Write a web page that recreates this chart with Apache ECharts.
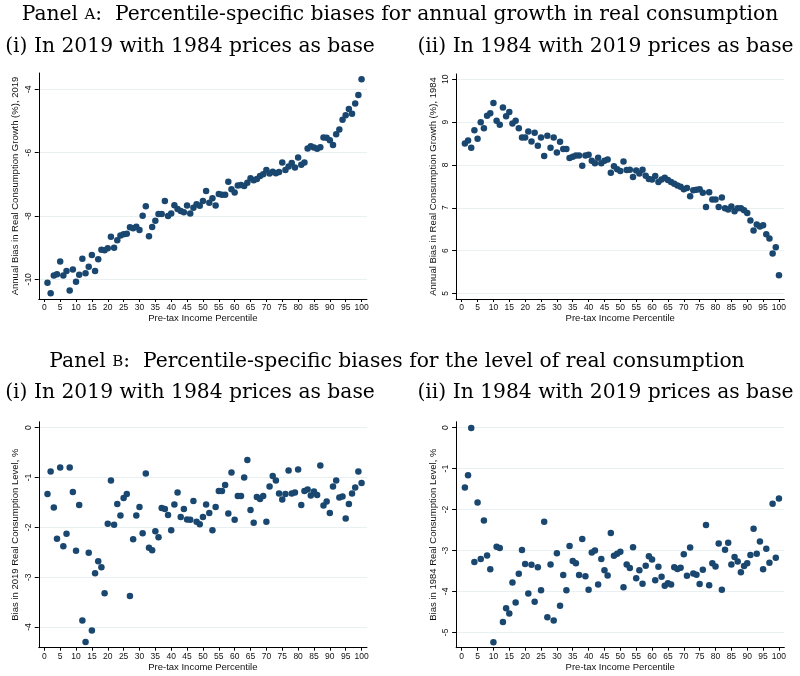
<!DOCTYPE html>
<html><head><meta charset="utf-8">
<script src="https://cdn.jsdelivr.net/npm/echarts@6/dist/echarts.min.js"></script>
<style>html,body{margin:0;padding:0;background:#fff}#c{width:800px;height:676px}</style>
</head><body><div id="c"></div>
<script>
const percentiles = [1,2,3,4,5,6,7,8,9,10,11,12,13,14,15,16,17,18,19,20,21,22,23,24,25,26,27,28,29,30,31,32,33,34,35,36,37,38,39,40,41,42,43,44,45,46,47,48,49,50,51,52,53,54,55,56,57,58,59,60,61,62,63,64,65,66,67,68,69,70,71,72,73,74,75,76,77,78,79,80,81,82,83,84,85,86,87,88,89,90,91,92,93,94,95,96,97,98,99,100];
const xTicks = [0,5,10,15,20,25,30,35,40,45,50,55,60,65,70,75,80,85,90,95,100];

// Panel A (i): annual growth bias, 2019 with 1984 prices as base
const growth2019 = [-10.11,-10.44,-9.88,-9.84,-9.44,-9.88,-9.74,-10.35,-9.69,-10.08,
-9.86,-9.35,-9.81,-9.60,-9.23,-9.74,-9.37,-9.07,-9.08,-9.02,
-8.66,-9.00,-8.77,-8.62,-8.58,-8.56,-8.36,-8.39,-8.34,-8.44,
-7.99,-7.69,-8.64,-8.35,-8.15,-7.94,-7.94,-7.53,-8.00,-7.92,
-7.66,-7.78,-7.84,-7.88,-7.67,-7.92,-7.74,-7.63,-7.68,-7.53,
-7.21,-7.58,-7.44,-7.67,-7.31,-7.33,-7.33,-6.92,-7.16,-7.26,
-7.04,-7.02,-7.05,-6.95,-6.81,-6.87,-6.83,-6.74,-6.68,-6.55,
-6.66,-6.60,-6.65,-6.61,-6.31,-6.55,-6.44,-6.33,-6.47,-6.15,
-6.38,-6.31,-5.87,-5.80,-5.84,-5.88,-5.83,-5.52,-5.53,-5.61,
-5.76,-5.42,-5.27,-4.96,-4.82,-4.62,-4.77,-4.45,-4.18,-3.68];

// Panel A (ii): annual growth bias, 1984 with 2019 prices as base
const growth1984 = [8.50,8.57,8.40,8.81,8.61,9.00,8.86,9.15,9.21,9.45,
9.03,8.94,9.34,9.14,9.24,8.97,9.03,8.86,8.64,8.64,
8.78,8.55,8.75,8.45,8.64,8.21,8.68,8.40,8.64,8.29,
8.54,8.37,8.37,8.16,8.19,8.22,8.22,7.98,8.22,8.24,
8.10,8.04,8.17,8.04,8.10,8.13,7.82,7.97,7.90,7.86,
8.08,7.88,7.89,7.72,7.87,7.80,7.89,7.75,7.67,7.66,
7.74,7.60,7.66,7.70,7.65,7.60,7.56,7.52,7.49,7.43,
7.46,7.27,7.41,7.42,7.43,7.35,7.02,7.36,7.19,7.19,
7.02,7.24,6.99,6.96,7.03,6.92,6.99,6.99,6.94,6.88,
6.70,6.47,6.61,6.56,6.59,6.38,6.28,5.93,6.08,5.42];

// Panel B (i): level bias, 2019 with 1984 prices as base
const level2019 = [-1.33,-0.88,-1.60,-2.23,-0.80,-2.38,-2.13,-0.80,-1.29,-2.47,
-1.55,-3.87,-4.30,-2.51,-4.07,-2.92,-2.68,-2.80,-3.32,-1.93,
-1.06,-1.95,-1.53,-1.76,-1.41,-1.33,-3.38,-2.24,-1.76,-1.59,
-2.12,-0.92,-2.41,-2.46,-2.08,-2.20,-1.61,-1.63,-1.75,-2.06,
-1.54,-1.30,-1.79,-1.63,-1.84,-1.85,-1.47,-1.89,-1.94,-1.79,
-1.54,-1.71,-2.06,-1.59,-1.27,-1.27,-1.15,-1.72,-0.90,-1.85,
-1.37,-1.37,-1.00,-0.65,-1.65,-1.91,-1.39,-1.43,-1.37,-1.89,
-1.18,-0.97,-1.06,-1.32,-1.44,-1.33,-0.86,-1.32,-1.30,-0.84,
-1.55,-1.27,-1.24,-1.36,-1.28,-1.35,-0.76,-1.56,-1.48,-1.71,
-1.18,-1.06,-1.40,-1.38,-1.82,-1.53,-1.32,-1.20,-0.88,-1.11];

// Panel B (ii): level bias, 1984 with 2019 prices as base
const level1984 = [-1.46,-1.16,-0.01,-3.28,-1.83,-3.21,-2.27,-3.12,-3.46,-5.24,
-2.91,-2.94,-4.75,-4.41,-4.54,-3.78,-4.27,-3.57,-2.99,-3.33,
-4.05,-3.35,-4.25,-3.41,-3.97,-2.30,-4.63,-3.34,-4.71,-3.07,
-4.35,-3.60,-3.97,-2.89,-3.26,-3.31,-3.60,-2.72,-3.63,-3.96,
-3.05,-3.00,-3.83,-3.21,-3.48,-3.61,-2.57,-3.13,-3.08,-3.03,
-3.90,-3.34,-3.43,-2.92,-3.68,-3.48,-3.81,-3.37,-3.14,-3.22,
-3.73,-3.40,-3.64,-3.86,-3.80,-3.83,-3.41,-3.45,-3.42,-3.09,
-3.62,-2.93,-3.56,-3.59,-3.82,-3.47,-2.38,-3.85,-3.31,-3.39,
-2.83,-3.96,-2.98,-2.81,-3.34,-3.16,-3.27,-3.53,-3.38,-3.31,
-3.11,-2.47,-3.08,-2.78,-3.46,-2.96,-3.30,-1.86,-3.18,-1.73];

const yTicksA1 = [-10,-8,-6,-4];
const yTicksA2 = [5,6,7,8,9,10];
const yTicksB1 = [-4,-3,-2,-1,0];
const yTicksB2 = [-5,-4,-3,-2,-1,0];

const xName = 'Pre-tax Income Percentile';
const yNameA1 = 'Annual Bias in Real Consumption Growth (%), 2019';
const yNameA2 = 'Annual Bias in Real Consumption Growth (%), 1984';
const yNameB1 = 'Bias in 2019 Real Consumption Level, %';
const yNameB2 = 'Bias in 1984 Real Consumption Level, %';

const titleA = 'Panel {sc|A}:  Percentile-specific biases for annual growth in real consumption';
const titleB = 'Panel {sc|B}:  Percentile-specific biases for the level of real consumption';
const subI = '(i) In 2019 with 1984 prices as base';
const subII = '(ii) In 1984 with 2019 prices as base';

const SANS = 'Liberation Sans, Arial, sans-serif';
const SERIF = 'DejaVu Serif, serif';
const TXT = '#111';
const MARK = '#1a476f';
const GRIDC = '#e8f0f2';
const TFONT = '20.3px ' + SERIF;

const panels = [
  {grid:{left:38.75, top:73, width:328.2, height:226}, ymin:-10.622, ymax:-3.485, yt:yTicksA1, yn:yNameA1, data:growth2019},
  {grid:{left:456.15, top:74, width:328.2, height:225}, ymin:4.868, ymax:10.125, yt:yTicksA2, yn:yNameA2, data:growth1984},
  {grid:{left:38.75, top:421.7, width:328.2, height:226}, ymin:-4.415, ymax:0.12, yt:yTicksB1, yn:yNameB1, data:level2019},
  {grid:{left:456.15, top:421.7, width:328.2, height:226}, ymin:-5.375, ymax:0.146, yt:yTicksB2, yn:yNameB2, data:level1984}
];

const option = {
  backgroundColor:'#fff',
  animation:false,
  grid: panels.map(p => Object.assign({containLabel:false}, p.grid)),
  xAxis: panels.map((p,i) => ({
    gridIndex:i, type:'value', min:-1.75, max:101.7,
    name:xName, nameLocation:'middle', nameGap:14.5,
    nameTextStyle:{fontSize:9.5, color:TXT, fontFamily:SANS, verticalAlign:'top'},
    axisLine:{show:true, onZero:false, lineStyle:{color:'#000', width:1}},
    axisTick:{show:true, customValues:xTicks, length:3, lineStyle:{color:'#000', width:1}},
    axisLabel:{customValues:xTicks, fontSize:8.5, margin:4.5, color:TXT, fontFamily:SANS},
    splitLine:{show:false}
  })),
  yAxis: panels.map((p,i) => ({
    gridIndex:i, type:'value', min:p.ymin, max:p.ymax,
    name:p.yn, nameLocation:'middle', nameGap:18, nameRotate:90,
    nameTextStyle:{fontSize:9.5, color:TXT, fontFamily:SANS},
    axisLine:{show:true, onZero:false, lineStyle:{color:'#000', width:1}},
    axisTick:{show:true, customValues:p.yt, length:4, lineStyle:{color:'#000', width:1}},
    axisLabel:{customValues:p.yt, rotate:90, fontSize:8.5, margin:6, color:TXT, fontFamily:SANS},
    splitLine:{show:true, lineStyle:{color:GRIDC, width:1}}
  })),
  series: panels.map((p,i) => ({
    type:'scatter', xAxisIndex:i, yAxisIndex:i,
    symbol:'circle', symbolSize:6.5,
    itemStyle:{color:MARK, opacity:1},
    emphasis:{disabled:true},
    data: percentiles.map((x,k) => [x, p.data[k]])
  })),
  graphic: [
    {type:'text', x:400, y:15, style:{text:titleA, fill:'#000', font:TFONT, align:'center', verticalAlign:'middle',
      rich:{sc:{fontSize:15, fontFamily:SERIF, fill:'#000'}}}},
    {type:'text', x:190, y:47, style:{text:subI, fill:'#000', font:TFONT, align:'center', verticalAlign:'middle'}},
    {type:'text', x:605.5, y:47, style:{text:subII, fill:'#000', font:TFONT, align:'center', verticalAlign:'middle'}},
    {type:'text', x:397, y:362, style:{text:titleB, fill:'#000', font:TFONT, align:'center', verticalAlign:'middle',
      rich:{sc:{fontSize:15, fontFamily:SERIF, fill:'#000'}}}},
    {type:'text', x:190, y:393, style:{text:subI, fill:'#000', font:TFONT, align:'center', verticalAlign:'middle'}},
    {type:'text', x:605.5, y:393, style:{text:subII, fill:'#000', font:TFONT, align:'center', verticalAlign:'middle'}}
  ]
};
const chart = echarts.init(document.getElementById('c'));
chart.setOption(option);
</script>
</body></html>
